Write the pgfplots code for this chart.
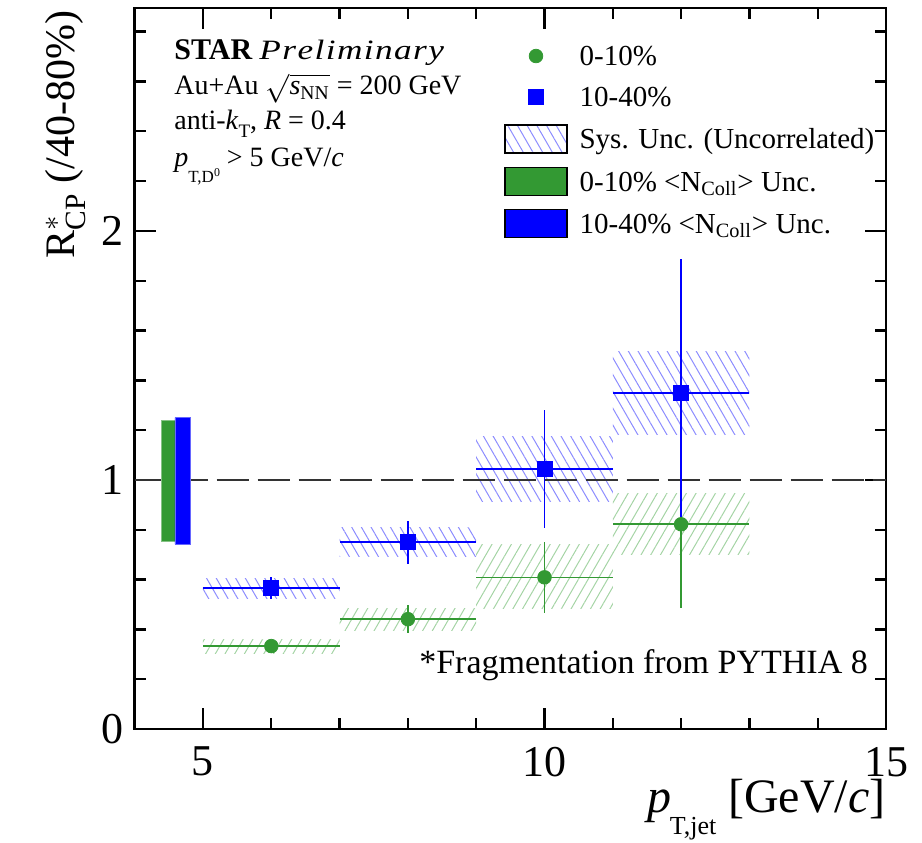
\documentclass[border=0pt]{standalone}
\usepackage{pgfplots}
\pgfplotsset{compat=1.18}
\usepackage{amsmath}
\usepackage{graphicx}
\usepackage{fontspec}
\setmainfont{Liberation Serif}
\usetikzlibrary{patterns.meta}
\definecolor{cgreen}{RGB}{51,153,51}
\definecolor{cblue}{RGB}{0,0,255}
\definecolor{hblue}{RGB}{140,140,255}
\definecolor{hgreen}{RGB}{165,212,165}

\begin{document}
\begin{tikzpicture}
\begin{axis}[
  scale only axis, width=375.65pt, height=360.5pt,
  xmin=4, xmax=15, ymin=0, ymax=2.895,
  axis line style={line width=1.3pt},
  xtick={5,10,15}, ytick={0,1,2},
  minor xtick={6,7,8,9,11,12,13,14},
  minor ytick={0.2,0.4,0.6,0.8,1.2,1.4,1.6,1.8,2.2,2.4,2.6,2.8},
  tick align=inside, tick pos=both,
  major tick length=10.5pt, minor tick length=5.5pt,
  every tick/.style={black, line width=1.2pt},
  /pgf/number format/assume math mode=true,
  ticklabel style={font=\fontsize{22}{26}\selectfont},
  xticklabel style={inner sep=0pt, yshift=-8.8pt},
  yticklabel style={inner sep=0pt, xshift=-5.5pt},
  xlabel={\textit{p}\kern-1pt\raisebox{-11pt}{\fontsize{13}{13}\selectfont T,jet}\hspace{6pt}[GeV/\textit{c}]},
  xlabel style={at={(rel axis cs:1,0)}, anchor=base east, inner sep=0pt, yshift=-41.5pt, font=\fontsize{24}{28}\selectfont},
  ylabel={R$^{*}_{\text{CP}}$ (/40-80\%)},
  ylabel style={at={([xshift=-30.3pt,yshift=-1pt]rel axis cs:0,1)}, anchor=base east, inner sep=0pt, font=\fontsize{21}{25}\selectfont},
  legend style={at={(axis cs:9.407,2.760)}, anchor=north west, draw=none, fill=none, inner sep=0pt,
    row sep=6.6pt, column sep=6pt, font=\fontsize{14.5}{17}\selectfont,
    nodes={inner sep=0pt, text height=9.6pt, text depth=0pt}},
  legend cell align=left,
]
\coordinate (sw) at (rel axis cs:0,0);
\coordinate (ne) at (rel axis cs:1,1);

% systematic uncertainty boxes, 0-10%
\addplot[forget plot, draw=none, pattern={Lines[angle=60,distance=4.2pt,line width=0.5pt]}, pattern color=hgreen]
  coordinates {(5,0.305) (7,0.305) (7,0.360) (5,0.360) (5,0.305)};
\addplot[forget plot, draw=none, pattern={Lines[angle=60,distance=4.2pt,line width=0.5pt]}, pattern color=hgreen]
  coordinates {(7,0.395) (9,0.395) (9,0.485) (7,0.485) (7,0.395)};
\addplot[forget plot, draw=none, pattern={Lines[angle=60,distance=4.2pt,line width=0.5pt]}, pattern color=hgreen]
  coordinates {(9,0.485) (11,0.485) (11,0.739) (9,0.739) (9,0.485)};
\addplot[forget plot, draw=none, pattern={Lines[angle=60,distance=4.2pt,line width=0.5pt]}, pattern color=hgreen]
  coordinates {(11,0.699) (13,0.699) (13,0.947) (11,0.947) (11,0.699)};
% systematic uncertainty boxes, 10-40%
\addplot[forget plot, draw=none, pattern={Lines[angle=-60,distance=4.2pt,line width=0.5pt]}, pattern color=hblue]
  coordinates {(5,0.525) (7,0.525) (7,0.605) (5,0.605) (5,0.525)};
\addplot[forget plot, draw=none, pattern={Lines[angle=-60,distance=4.2pt,line width=0.5pt]}, pattern color=hblue]
  coordinates {(7,0.692) (9,0.692) (9,0.808) (7,0.808) (7,0.692)};
\addplot[forget plot, draw=none, pattern={Lines[angle=-60,distance=4.2pt,line width=0.5pt]}, pattern color=hblue]
  coordinates {(9,0.913) (11,0.913) (11,1.174) (9,1.174) (9,0.913)};
\addplot[forget plot, draw=none, pattern={Lines[angle=-60,distance=4.2pt,line width=0.5pt]}, pattern color=hblue]
  coordinates {(11,1.181) (13,1.181) (13,1.515) (11,1.515) (11,1.181)};

% unity line
\addplot[forget plot, black!80, line width=0.75pt, dash pattern=on 16pt off 4.5pt] coordinates {(4,1) (15,1)};

% <N_coll> uncertainty boxes
\addplot[forget plot, fill=cgreen, draw=cgreen!60, line width=0.4pt]
  coordinates {(4.395,0.752) (4.59,0.752) (4.59,1.238) (4.395,1.238) (4.395,0.752)};
\addplot[forget plot, fill=cblue, draw=cblue!60, line width=0.4pt]
  coordinates {(4.59,0.742) (4.81,0.742) (4.81,1.250) (4.59,1.250) (4.59,0.742)};

% 0-10%
\addplot[forget plot, only marks, mark=*, mark size=3.4pt, color=cgreen,
  error bars/.cd, x dir=both, x explicit, y dir=both, y explicit, error mark=none,
  error bar style={line width=0.8pt}]
  table[x=x, y=y, x error=ex, y error=ey] {
x y ex ey
6 0.333 1 0.025
8 0.441 1 0.055
10 0.609 1 0.143
12 0.822 1 0.337
};
% 10-40%
\addplot[forget plot, only marks, mark=square*, mark size=3.7pt, color=cblue,
  error bars/.cd, x dir=both, x explicit, y dir=both, y explicit, error mark=none,
  error bar style={line width=0.8pt}]
  table[x=x, y=y, x error=ex, y error=ey] {
x y ex ey
6 0.565 1 0.045
8 0.750 1 0.086
10 1.044 1 0.237
12 1.348 1 0.540
};

% legend
\addlegendimage{legend image code/.code={\path[draw=none,fill=none] (0pt,-7pt) rectangle (31pt,7pt);
  \path[draw=cgreen, fill=cgreen, mark=*, mark size=3.4pt, only marks] plot coordinates {(15.5pt,0pt)};}}
\addlegendentry{0-10\%}
\addlegendimage{legend image code/.code={\path[draw=none,fill=none] (0pt,-7pt) rectangle (31pt,7pt);
  \path[draw=cblue, fill=cblue, mark=square*, mark size=3.7pt, only marks] plot coordinates {(15.5pt,0pt)};}}
\addlegendentry{10-40\%}
\addlegendimage{legend image code/.code={\draw[black, line width=0.6pt,
  pattern={Lines[angle=-60,distance=4.2pt,line width=0.5pt]}, pattern color=hblue] (0pt,-7pt) rectangle (31pt,7pt);}}
\addlegendentry{Sys. Unc. (Uncorrelated)}
\addlegendimage{legend image code/.code={\draw[black, line width=0.6pt, fill=cgreen] (0pt,-7pt) rectangle (31pt,7pt);}}
\addlegendentry{0-10\% <N$_{\text{Coll}}$> Unc.}
\addlegendimage{legend image code/.code={\draw[black, line width=0.6pt, fill=cblue] (0pt,-7pt) rectangle (31pt,7pt);}}
\addlegendentry{10-40\% <N$_{\text{Coll}}$> Unc.}

% text
\node[anchor=base west, inner sep=0pt, font=\fontsize{14}{16}\selectfont] at (axis cs:4.575,2.690)
  {{\fontsize{15}{17}\selectfont\textbf{STAR}} \scalebox{1.26}[1]{\textit{P\kern.04em r\kern.04em e\kern.04em l\kern.04em i\kern.04em m\kern.04em i\kern.04em n\kern.04em a\kern.04em r\kern.04em y}}};
\node[anchor=base west, inner sep=0pt, font=\fontsize{14}{16}\selectfont] at (axis cs:4.575,2.546)
  {Au+Au $\sqrt{\text{\textit{s}}_{\text{NN}}}$ = 200 GeV};
\node[anchor=base west, inner sep=0pt, font=\fontsize{14}{16}\selectfont] at (axis cs:4.575,2.406)
  {anti-\textit{k}\raisebox{-4pt}{\fontsize{9.5}{10}\selectfont T}, \textit{R} = 0.4};
\node[anchor=base west, inner sep=0pt, font=\fontsize{14}{16}\selectfont] at (axis cs:4.575,2.258)
  {\textit{p}\raisebox{-8pt}{\fontsize{8.5}{9}\selectfont T,D\textsuperscript{0}}\hspace{3pt}> 5 GeV/\textit{c}};
\node[anchor=base east, inner sep=0pt, font=\fontsize{17}{20}\selectfont] at (axis cs:14.74,0.224)
  {*Fragmentation from PYTHIA 8};
\end{axis}
\pgfresetboundingbox
\path ([shift={(-67.35pt,-56.5pt)}]sw) rectangle ([shift={(18pt,4pt)}]ne);
\end{tikzpicture}
\end{document}
